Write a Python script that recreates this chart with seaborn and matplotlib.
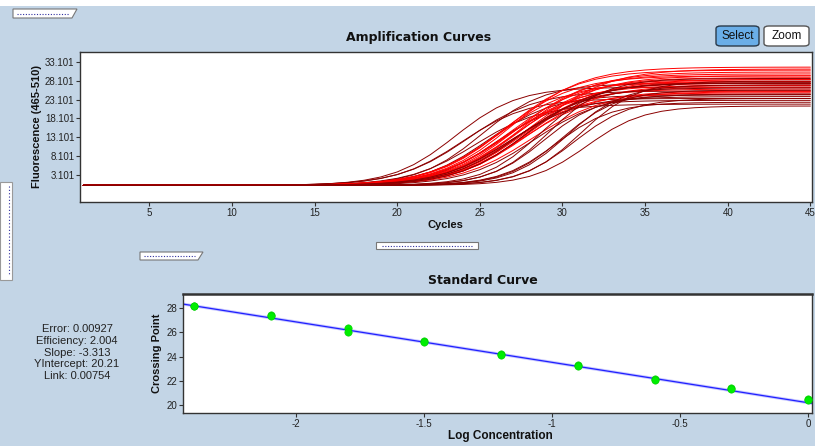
import numpy as np
import pandas as pd
import matplotlib
matplotlib.use("Agg")
import matplotlib.pyplot as plt
import seaborn as sns
from matplotlib.patches import FancyBboxPatch, Polygon, Rectangle
from matplotlib.lines import Line2D

# ---------------- data ----------------
cycles = list(range(1, 46))
# per-curve parameters
curve_ct = [23.5, 23.9, 24.3, 24.7, 25.1, 25.5, 25.9,
            26.2, 26.35, 26.5, 26.6, 26.7, 26.8, 26.9, 27.0, 27.1, 27.2,
            27.3, 27.4, 27.5, 27.6, 27.7, 27.8, 27.9, 28.0, 28.15, 28.3,
            26.8, 27.3, 27.8, 28.3,
            28.6, 28.9, 29.2, 29.6, 30.0, 30.3, 30.7, 31.1, 31.5]
curve_plateau = [26.0, 23.0, 25.0, 21.5, 27.0, 24.0, 22.5,
                 27.5, 29.0, 25.5, 30.5, 26.5, 28.0, 31.3, 24.5, 27.0, 29.5,
                 26.0, 28.5, 30.0, 25.0, 27.5, 29.0, 26.5, 28.0, 24.8, 30.8,
                 23.5, 25.8, 27.2, 24.2,
                 27.0, 24.0, 28.3, 22.0, 25.2, 26.6, 23.0, 27.6, 21.0]
curve_steep = [1.9, 2.0, 2.1, 2.0, 1.9, 2.0, 1.9,
               2.2, 2.2, 2.2, 2.2, 2.2, 2.2, 2.2, 2.2, 2.2, 2.2,
               2.2, 2.2, 2.2, 2.2, 2.2, 2.2, 2.2, 2.2, 2.2, 2.2,
               2.1, 2.1, 2.1, 2.1,
               1.7, 1.7, 1.7, 1.7, 1.7, 1.7, 1.7, 1.7, 1.7]
curve_shade = ["dark"] * 7 + ["red"] * 20 + ["dark"] * 4 + ["dark"] * 9
baseline = 0.4

amp_yticks = [3.101, 8.101, 13.101, 18.101, 23.101, 28.101, 33.101]
amp_xticks = [5, 10, 15, 20, 25, 30, 35, 40, 45]

log_conc = [-2.4, -2.4, -2.1, -2.1, -1.8, -1.8, -1.5, -1.5, -1.2, -1.2,
            -0.9, -0.9, -0.6, -0.6, -0.3, -0.3, 0.0, 0.0]
crossing_pt = [28.17, 28.13, 27.40, 27.33, 26.35, 26.02, 25.27, 25.23, 24.21, 24.16,
               23.30, 23.25, 22.12, 22.06, 21.38, 21.34, 20.49, 20.44]
fit_slope = -3.313
fit_intercept = 20.21
std_xticks = [-2, -1.5, -1, -0.5, 0]
std_xlabels = ["-2", "-1.5", "-1", "-0.5", "0"]
std_yticks = [20, 22, 24, 26, 28]
stats_lines = ["Error: 0.00927", "Efficiency: 2.004", "Slope: -3.313",
               "YIntercept: 20.21", "Link: 0.00754"]

# ---------------- style ----------------
W, H = 815, 446
BG = "#c3d5e6"
sns.set_theme(style="white")
plt.rcParams["font.family"] = ["Liberation Sans", "DejaVu Sans"]

fig = plt.figure(figsize=(W / 100, H / 100), dpi=100, facecolor=BG)


def fx(x):
    return x / W


def fy(y):
    return 1 - y / H


def box(x0, y0, x1, y1):
    return [fx(x0), fy(y1), fx(x1) - fx(x0), fy(y0) - fy(y1)]


# ---------------- amplification curves ----------------
rows = []
for i, (m, p, s) in enumerate(zip(curve_ct, curve_plateau, curve_steep)):
    c = np.array(cycles, dtype=float)
    f = baseline + p / (1 + np.exp(-(c - m) / s))
    for cc, ff in zip(cycles, f):
        rows.append({"cycle": cc, "fluor": ff, "curve": i})
df = pd.DataFrame(rows)
palette = {i: ("#8b0000" if sh == "dark" else "#ff0000") for i, sh in enumerate(curve_shade)}

ax1 = fig.add_axes(box(80, 52, 812, 202))
ax1.set_facecolor("white")
sns.lineplot(data=df, x="cycle", y="fluor", hue="curve", palette=palette,
             estimator=None, legend=False, lw=0.7, ax=ax1)
ax1.set_xlim(0.8, 45.1)
ax1.set_ylim(-4.0, 35.7)
ax1.set_xticks(amp_xticks)
ax1.set_yticks(amp_yticks)
ax1.set_yticklabels([f"{v:.3f}" for v in amp_yticks])
ax1.set_yticks(np.arange(-2.899, 35.0, 1.0), minor=True)
ax1.tick_params(axis="both", which="major", direction="out", length=3, width=0.8,
                labelsize=7, pad=1, colors="#333333", labelcolor="#222222")
ax1.tick_params(axis="y", which="minor", direction="out", length=1.5, width=0.6,
                colors="#333333")
ax1.tick_params(left=True, bottom=True)
ax1.set_xlabel("")
ax1.set_ylabel("Fluorescence (465-510)", fontsize=8, fontweight="bold", labelpad=2,
               color="#111111")
for sp in ax1.spines.values():
    sp.set_color("#333333")
    sp.set_linewidth(1.0)
fig.text(fx(419), fy(38), "Amplification Curves", fontsize=9, fontweight="bold",
         ha="center", va="center", color="#111111", family="DejaVu Sans")
fig.text(fx(445), fy(225), "Cycles", fontsize=8, fontweight="bold",
         ha="center", va="center", color="#111111")

# ---------------- standard curve ----------------
ax2 = fig.add_axes(box(183, 294, 812, 413))
ax2.set_facecolor("white")
xl = (-2.443, 0.015)
line_x = [xl[0], xl[1]]
line_y = [fit_intercept + fit_slope * v for v in line_x]
sns.lineplot(x=line_x, y=line_y, color="#c8c8ff", lw=2.2, ax=ax2)
sns.lineplot(x=line_x, y=line_y, color="#2020ff", lw=0.9, ax=ax2)
sns.scatterplot(x=log_conc, y=crossing_pt, color="#00ee00", s=28, marker="o",
                edgecolor="#00cc00", linewidth=0.4, ax=ax2, zorder=5)
ax2.set_xlim(*xl)
ax2.set_ylim(19.37, 29.13)
ax2.set_xticks(std_xticks)
ax2.set_xticklabels(std_xlabels)
ax2.set_yticks(std_yticks)
ax2.set_yticks(np.arange(19.5, 29.0, 0.5), minor=True)
ax2.tick_params(axis="both", which="major", direction="out", length=3, width=0.8,
                labelsize=7, pad=1, colors="#333333", labelcolor="#222222")
ax2.tick_params(axis="y", which="minor", direction="out", length=1.5, width=0.6,
                colors="#333333")
ax2.tick_params(left=True, bottom=True)
ax2.set_xlabel("")
ax2.set_ylabel("Crossing Point", fontsize=8, fontweight="bold", labelpad=3,
               color="#111111")
for sp in ax2.spines.values():
    sp.set_color("#333333")
    sp.set_linewidth(1.0)
ax2.spines["top"].set_linewidth(1.8)
fig.text(fx(483), fy(280), "Standard Curve", fontsize=9, fontweight="bold",
         ha="center", va="center", color="#111111", family="DejaVu Sans")
fig.text(fx(500), fy(436), "Log Concentration", fontsize=8.5, fontweight="bold",
         ha="center", va="center", color="#111111")

fig.text(fx(77), fy(352.5), "\n".join(stats_lines), fontsize=8, ha="center",
         va="center", linespacing=1.2, color="#222222")

# ---------------- decorations (UI chrome) ----------------
fig.patches.append(Rectangle((0, fy(6)), 1, 1 - fy(6), transform=fig.transFigure,
                             facecolor="white", edgecolor="none", zorder=0))
# buttons
fig.patches.append(FancyBboxPatch((fx(716), fy(46)), fx(759) - fx(716), fy(26) - fy(46),
                                  boxstyle="round,pad=0,rounding_size=0.006",
                                  transform=fig.transFigure, facecolor="#6aaee8",
                                  edgecolor="#2a3a4a", lw=1.0))
fig.text(fx(737.5), fy(36), "Select", fontsize=8.5, ha="center", va="center",
         color="#111111")
fig.patches.append(FancyBboxPatch((fx(764), fy(46)), fx(809) - fx(764), fy(26) - fy(46),
                                  boxstyle="round,pad=0,rounding_size=0.006",
                                  transform=fig.transFigure, facecolor="white",
                                  edgecolor="#555555", lw=1.0))
fig.text(fx(786.5), fy(36), "Zoom", fontsize=8.5, ha="center", va="center",
         color="#111111")


def tab(x0, y0, x1, y1, slant):
    pts = [(fx(x0), fy(y0)), (fx(x1), fy(y0)), (fx(x1 - slant), fy(y1)), (fx(x0), fy(y1))]
    fig.patches.append(Polygon(pts, closed=True, transform=fig.transFigure,
                               facecolor="white", edgecolor="#777777", lw=0.8))
    fig.lines.append(Line2D([fx(x0 + 4), fx(x1 - slant - 3)], [fy((y0 + y1) / 2)] * 2,
                            transform=fig.transFigure, color="#3030a0", lw=0.8,
                            ls=(0, (1, 1.5))))


tab(13, 9, 77, 18, 5)
tab(140, 252, 203, 260, 5)
fig.patches.append(Rectangle((fx(376), fy(249)), fx(478) - fx(376), fy(242) - fy(249),
                             transform=fig.transFigure, facecolor="white",
                             edgecolor="#777777", lw=0.8))
fig.lines.append(Line2D([fx(382), fx(472)], [fy(245.5)] * 2, transform=fig.transFigure,
                        color="#3030a0", lw=0.8, ls=(0, (1, 1.5))))
fig.patches.append(Rectangle((0, fy(280)), fx(12), fy(182) - fy(280),
                             transform=fig.transFigure, facecolor="white",
                             edgecolor="#999999", lw=0.8))
fig.lines.append(Line2D([fx(9)] * 2, [fy(186), fy(276)], transform=fig.transFigure,
                        color="#3030a0", lw=0.8, ls=(0, (1, 2))))

fig.savefig("out.png", dpi=100, facecolor=BG)
